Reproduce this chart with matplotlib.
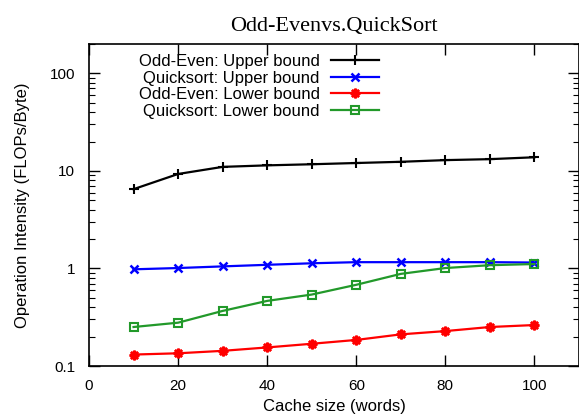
import numpy as np
import matplotlib
matplotlib.use("Agg")
import matplotlib.pyplot as plt
from matplotlib.ticker import LogLocator, FixedLocator, NullFormatter

# values
cache_size = [10, 20, 30, 40, 50, 60, 70, 80, 90, 100]
oe_upper = [6.5, 9.3, 11.0, 11.4, 11.7, 12.05, 12.4, 12.9, 13.2, 13.8]
qs_upper = [0.98, 1.01, 1.05, 1.09, 1.13, 1.16, 1.16, 1.16, 1.16, 1.15]
oe_lower = [0.131, 0.135, 0.143, 0.155, 0.169, 0.185, 0.211, 0.228, 0.251, 0.263]
qs_lower = [0.251, 0.278, 0.367, 0.465, 0.54, 0.68, 0.88, 1.01, 1.08, 1.11]

x_ticks = [0, 20, 40, 60, 80, 100]
y_ticks = [0.1, 1, 10, 100]
y_tick_labels = ['0.1', '1', '10', '100']

plt.rcParams['font.family'] = ['Liberation Sans', 'DejaVu Sans']

W, H = 579, 415
fig = plt.figure(figsize=(W / 100, H / 100), dpi=100)
left, right, bottom, top = 89, 579, 366, 44
ax = fig.add_axes([left / W, (H - bottom) / H, (right - left) / W, (bottom - top) / H])

lw = 1.6
ax.plot(cache_size, oe_upper, '-', color='black', lw=lw, marker='+', ms=7, mew=1.5,
        label='Odd-Even: Upper bound')
ax.plot(cache_size, qs_upper, '-', color='#0000ff', lw=lw, marker='x', ms=6, mew=1.8,
        label='Quicksort: Upper bound')
ax.plot(cache_size, oe_lower, '-', color='#ff0000', lw=lw, marker=(8, 2, 0), ms=7, mew=1.8,
        label='Odd-Even: Lower bound')
ax.plot(cache_size, qs_lower, '-', color='#22992a', lw=lw, marker='s', ms=6, mew=1.5,
        mfc='none', label='Quicksort: Lower bound')

ax.set_yscale('log')
ax.set_xlim(0, 110)
ax.set_ylim(0.1, 200)
ax.xaxis.set_major_locator(FixedLocator(x_ticks))
ax.set_yticks(y_ticks)
ax.set_yticklabels(y_tick_labels)
ax.yaxis.set_minor_locator(LogLocator(base=10, subs=np.arange(2, 10)))
ax.yaxis.set_minor_formatter(NullFormatter())

ax.tick_params(which='both', direction='in', top=True, right=True, labelsize=11)
ax.tick_params(which='major', length=8, width=1)
ax.tick_params(which='minor', length=4, width=0.8)
ax.tick_params(axis='y', pad=10)
ax.tick_params(axis='x', pad=9)
for s in ax.spines.values():
    s.set_linewidth(1.2)

ax.set_xlabel('Cache size (words)', fontsize=12, labelpad=5)
ax.set_ylabel('Operation Intensity (FLOPs/Byte)', fontsize=12, labelpad=14)
ax.set_title('Odd-Evenvs.QuickSort', family='Liberation Serif', fontsize=16, pad=9)

leg = ax.legend(loc='upper right', bbox_to_anchor=(379 / W, (H - 54) / H),
                bbox_transform=fig.transFigure, frameon=False, markerfirst=False,
                fontsize=12, handlelength=2.9, handletextpad=0.65, labelspacing=0.1,
                borderpad=0, borderaxespad=0)

fig.savefig('out.png', dpi=100)
